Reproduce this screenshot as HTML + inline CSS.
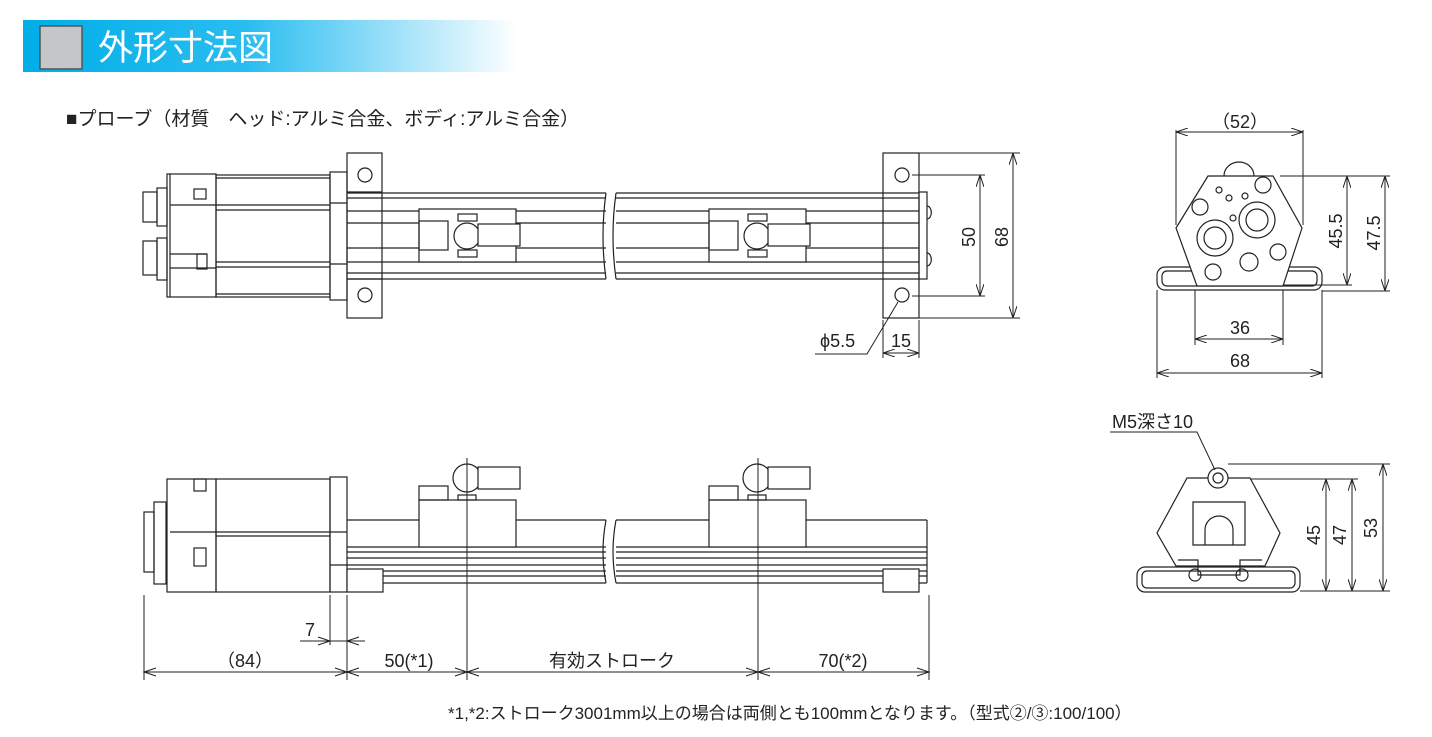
<!DOCTYPE html>
<html><head><meta charset="utf-8"><style>
html,body{margin:0;padding:0;background:#fff;}
svg{display:block;font-family:"Liberation Sans","Noto Sans CJK JP",sans-serif;}
</style></head><body>
<svg width="1432" height="737" viewBox="0 0 1432 737" xmlns="http://www.w3.org/2000/svg">
<defs>
<linearGradient id="g" x1="0" x2="1" y1="0" y2="0">
<stop offset="0" stop-color="#00aee8"/><stop offset="0.45" stop-color="#29bdf0"/><stop offset="1" stop-color="#ffffff"/>
</linearGradient>
<marker id="a" viewBox="0 0 12 8" refX="12" refY="4" markerWidth="12" markerHeight="8" orient="auto-start-reverse" markerUnits="userSpaceOnUse"><path d="M0,0 L12,4 L0,8" fill="none" stroke="#222" stroke-width="1"/></marker>
</defs>
<rect x="23" y="20" width="495" height="52" fill="url(#g)"/>
<rect x="40" y="26" width="42" height="43" fill="#c4c6c9" stroke="#555" stroke-width="1.5"/>
<text x="98" y="60" font-size="35" fill="#fff">外形寸法図</text>
<text x="66" y="125" font-size="19" fill="#222">■プローブ（材質　ヘッド:アルミ合金、ボディ:アルミ合金）</text>

<g fill="none" stroke="#222" stroke-width="1.2">
<rect x="143" y="192" width="14" height="30"/><rect x="157" y="188" width="10" height="38"/>
<rect x="143" y="241" width="14" height="34"/><rect x="157" y="238" width="10" height="42"/>
<rect x="167" y="174" width="49" height="123"/><line x1="170" y1="174" x2="170" y2="297"/>
<rect x="194" y="189" width="12" height="10"/><line x1="170" y1="205" x2="216" y2="205"/>
<rect x="197" y="254" width="10" height="15"/><line x1="170" y1="254" x2="207" y2="254"/><line x1="170" y1="268" x2="216" y2="268"/>
<rect x="216" y="175" width="114" height="122"/>
<line x1="216" y1="178" x2="330" y2="178"/><line x1="216" y1="205" x2="330" y2="205"/><line x1="216" y1="210" x2="330" y2="210"/>
<line x1="216" y1="262" x2="330" y2="262"/><line x1="216" y1="267" x2="330" y2="267"/><line x1="216" y1="294" x2="330" y2="294"/>
<rect x="330" y="172" width="17" height="128"/><line x1="330" y1="203" x2="347" y2="203"/><line x1="330" y1="264" x2="347" y2="264"/>
<rect x="347" y="153" width="35" height="165"/><circle cx="365" cy="175" r="7"/><circle cx="365" cy="295" r="7"/>
<line x1="347" y1="192" x2="382" y2="192"/><line x1="347" y1="279" x2="382" y2="279"/>
<path d="M347,193 H606 M347,198 H606 M347,211 H606 M347,223 H606 M347,248 H606 M347,262 H606 M347,273 H606 M347,279 H606"/>
<path d="M616,193 H919 M616,198 H919 M616,211 H919 M616,223 H919 M616,248 H919 M616,262 H919 M616,273 H919 M616,279 H919"/>
<path d="M606,193 Q600,236 606,279 M616,193 Q610,236 616,279"/>
<rect x="419" y="209" width="97" height="53" fill="#fff"/><rect x="419" y="221" width="29" height="29"/>
<rect x="458" y="214" width="19" height="7"/><rect x="458" y="250" width="19" height="7"/>
<circle cx="467" cy="236" r="13" fill="#fff"/><rect x="478" y="224" width="42" height="22" fill="#fff"/>
<rect x="709" y="209" width="97" height="53" fill="#fff"/><rect x="709" y="221" width="29" height="29"/>
<rect x="748" y="214" width="19" height="7"/><rect x="748" y="250" width="19" height="7"/>
<circle cx="757" cy="236" r="13" fill="#fff"/><rect x="768" y="224" width="42" height="22" fill="#fff"/>
<rect x="883" y="153" width="36" height="165"/><circle cx="902" cy="175" r="7"/><circle cx="902" cy="295" r="7"/>
<rect x="919" y="192" width="8" height="87"/><path d="M927,206 a4,6 0 0 1 0,13 M927,253 a4,6 0 0 1 0,13"/>
</g>
<g fill="none" stroke="#222" stroke-width="1">
<path d="M919,153 H1020 M919,318 H1020 M912,175 H985 M912,296 H985 M883,320 V358 M919,320 V358"/>
<line x1="980" y1="175" x2="980" y2="296" marker-start="url(#a)" marker-end="url(#a)"/>
<line x1="1013" y1="153" x2="1013" y2="318" marker-start="url(#a)" marker-end="url(#a)"/>
<line x1="883" y1="353" x2="919" y2="353" marker-start="url(#a)" marker-end="url(#a)"/>
<path d="M815,354 H867 L898,302"/>
</g>
<g font-size="18" fill="#222">
<text transform="translate(975,237) rotate(-90)" text-anchor="middle">50</text>
<text transform="translate(1008,237) rotate(-90)" text-anchor="middle">68</text>
<text x="820" y="347">ϕ5.5</text><text x="891" y="347">15</text>
</g>

<g fill="none" stroke="#222" stroke-width="1.2">
<rect x="144" y="512" width="10" height="60"/><rect x="154" y="502" width="12" height="82"/>
<rect x="167" y="479" width="49" height="113"/><rect x="194" y="479" width="12" height="12"/><rect x="194" y="548" width="12" height="18"/>
<line x1="170" y1="532" x2="216" y2="532"/>
<rect x="216" y="479" width="114" height="113"/><line x1="216" y1="532" x2="330" y2="532"/><line x1="216" y1="536" x2="330" y2="536"/>
<rect x="330" y="477" width="17" height="115"/><line x1="330" y1="532" x2="347" y2="532"/><line x1="330" y1="565" x2="347" y2="565"/>
<path d="M347,520 H606 M347,547 H606 M347,552 H606 M347,558 H606 M347,565 H606 M347,571 H606 M347,576 H606 M347,583 H606"/>
<path d="M616,520 H927 M616,547 H927 M616,552 H927 M616,558 H927 M616,565 H927 M616,571 H927 M616,576 H927 M616,583 H927"/>
<path d="M606,520 Q600,552 606,583 M616,520 Q610,552 616,583 M927,520 V583"/>
<rect x="347" y="569" width="36" height="23" fill="#fff"/><rect x="883" y="569" width="36" height="23" fill="#fff"/>
<rect x="419" y="500" width="97" height="47" fill="#fff"/><rect x="419" y="486" width="29" height="14"/>
<rect x="458" y="495" width="18" height="5"/><circle cx="467" cy="478" r="14" fill="#fff"/><rect x="478" y="467" width="42" height="22" fill="#fff"/>
<rect x="709" y="500" width="97" height="47" fill="#fff"/><rect x="709" y="486" width="29" height="14"/>
<rect x="748" y="495" width="18" height="5"/><circle cx="757" cy="478" r="14" fill="#fff"/><rect x="768" y="467" width="42" height="22" fill="#fff"/>
</g>
<g fill="none" stroke="#222" stroke-width="1">
<path d="M144,595 V680 M330,595 V645 M347,595 V680 M467,458 V680 M758,458 V680 M929,595 V680 M300,641 H365"/>
<line x1="144" y1="672" x2="929" y2="672"/>
<path d="M156,668 L144,672 L156,676 M335,668 L347,672 L335,676 M359,668 L347,672 L359,676 M455,668 L467,672 L455,676 M479,668 L467,672 L479,676 M746,668 L758,672 L746,676 M770,668 L758,672 L770,676 M917,668 L929,672 L917,676 M318,637 L330,641 L318,645 M359,637 L347,641 L359,645"/>
</g>
<g font-size="18" fill="#222" text-anchor="middle">
<text x="310" y="636">7</text><text x="245" y="667">（84）</text><text x="409" y="667">50(*1)</text>
<text x="612" y="667">有効ストローク</text><text x="843" y="667">70(*2)</text>
</g>

<g fill="none" stroke="#222" stroke-width="1.2">
<rect x="1157" y="267" width="165" height="23" rx="8"/><rect x="1162" y="271" width="155" height="15" rx="5"/>
<path d="M1208,176 H1273 L1302,228 L1283,286 H1197 L1176,228 Z" fill="#fff"/>
<path d="M1224,176 a15,14 0 0 1 30,0"/>
<circle cx="1263" cy="185" r="8"/><circle cx="1200" cy="207" r="8"/><circle cx="1278" cy="252" r="8"/><circle cx="1213" cy="272" r="8"/>
<circle cx="1215" cy="238" r="18"/><circle cx="1215" cy="238" r="11"/>
<circle cx="1257" cy="220" r="18"/><circle cx="1257" cy="220" r="11"/>
<circle cx="1249" cy="262" r="9"/>
<circle cx="1219" cy="190" r="3"/><circle cx="1229" cy="198" r="3"/><circle cx="1245" cy="196" r="3"/><circle cx="1233" cy="218" r="3"/>
</g>
<g fill="none" stroke="#222" stroke-width="1">
<path d="M1176,130 V225 M1303,130 V225 M1280,176 H1390 M1283,285 H1352 M1322,291 H1390 M1195,290 V345 M1283,290 V345 M1157,290 V378 M1322,290 V378"/>
<line x1="1176" y1="132" x2="1303" y2="132" marker-start="url(#a)" marker-end="url(#a)"/>
<line x1="1347" y1="176" x2="1347" y2="285" marker-start="url(#a)" marker-end="url(#a)"/>
<line x1="1385" y1="176" x2="1385" y2="291" marker-start="url(#a)" marker-end="url(#a)"/>
<line x1="1195" y1="339" x2="1283" y2="339" marker-start="url(#a)" marker-end="url(#a)"/>
<line x1="1157" y1="373" x2="1322" y2="373" marker-start="url(#a)" marker-end="url(#a)"/>
</g>
<g font-size="18" fill="#222" text-anchor="middle">
<text x="1240" y="128">（52）</text><text x="1240" y="334">36</text><text x="1240" y="367">68</text>
<text transform="translate(1342,231) rotate(-90)">45.5</text><text transform="translate(1380,233) rotate(-90)">47.5</text>
</g>

<g fill="none" stroke="#222" stroke-width="1.2">
<rect x="1137" y="567" width="163" height="25" rx="8"/><rect x="1142" y="571" width="153" height="17" rx="5"/>
<path d="M1187,478 H1250 L1280,533 L1265,566 H1176 L1157,533 Z" fill="#fff"/>
<path d="M1193,502 H1245 V545 H1193 Z"/><path d="M1205,545 V530 a14,14 0 0 1 28,0 V545"/>
<path d="M1178,560 H1198 V575 H1240 V560 H1262"/>
<circle cx="1195" cy="575" r="6"/><circle cx="1242" cy="575" r="6"/>
<circle cx="1218" cy="478" r="10" fill="#fff"/><circle cx="1218" cy="478" r="5"/>
</g>
<g fill="none" stroke="#222" stroke-width="1">
<path d="M1110,432 H1197 L1215,470 M1228,464 H1390 M1250,479 H1358 M1300,591 H1390"/>
<line x1="1326" y1="479" x2="1326" y2="591" marker-start="url(#a)" marker-end="url(#a)"/>
<line x1="1352" y1="479" x2="1352" y2="591" marker-start="url(#a)" marker-end="url(#a)"/>
<line x1="1383" y1="464" x2="1383" y2="591" marker-start="url(#a)" marker-end="url(#a)"/>
</g>
<g font-size="18" fill="#222">
<text x="1112" y="428">M5深さ10</text>
<text transform="translate(1320,535) rotate(-90)" text-anchor="middle">45</text>
<text transform="translate(1346,535) rotate(-90)" text-anchor="middle">47</text>
<text transform="translate(1377,528) rotate(-90)" text-anchor="middle">53</text>
</g>
<text x="448" y="719" font-size="17" fill="#222">*1,*2:ストローク3001mm以上の場合は両側とも100mmとなります。（型式②/③:100/100）</text>
</svg>
</body></html>
